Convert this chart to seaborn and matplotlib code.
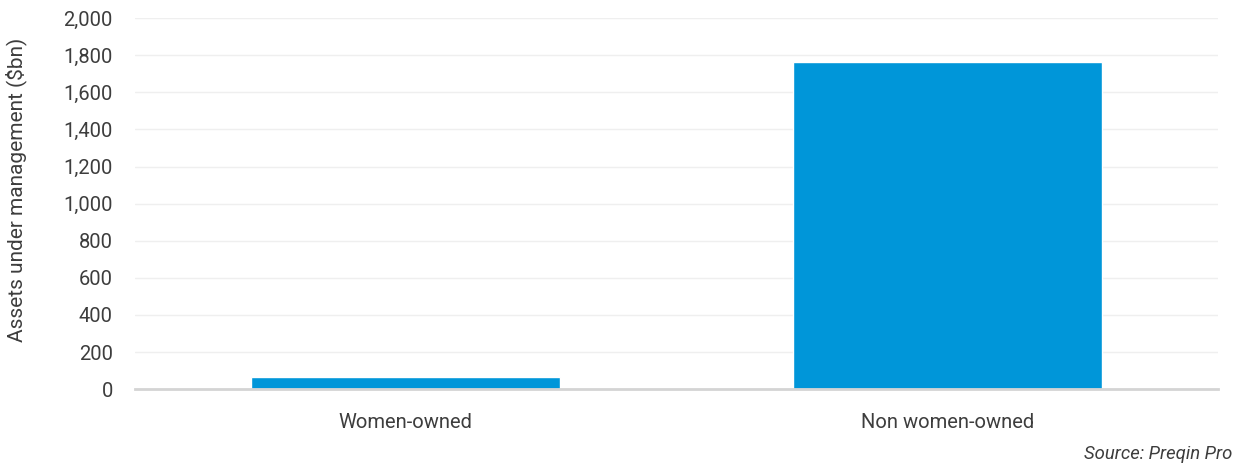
import matplotlib
matplotlib.use("Agg")
import matplotlib.pyplot as plt
from matplotlib.ticker import FuncFormatter
import seaborn as sns
import pandas as pd

categories = ["Women-owned", "Non women-owned"]
aum_bn = [65, 1763]
y_ticks = [0, 200, 400, 600, 800, 1000, 1200, 1400, 1600, 1800, 2000]

sns.set_theme(style="white")
plt.rcParams["font.family"] = ["Roboto", "DejaVu Sans"]

text_color = "#3d3d3d"
bar_color = "#0096d9"

df = pd.DataFrame({"category": categories, "aum": aum_bn})

fig = plt.figure(figsize=(12.39, 4.66), dpi=100)
ax = fig.add_axes([0.109, 0.165, 0.874, 0.796])

sns.barplot(data=df, x="category", y="aum", color=bar_color, width=0.57,
            saturation=1, ax=ax, zorder=3)

ax.set_ylim(0, 2000)
ax.set_yticks(y_ticks)
ax.yaxis.set_major_formatter(FuncFormatter(lambda v, p: f"{int(v):,}"))
ax.grid(axis="y", color="#efefef", linewidth=1.0, zorder=0)
ax.grid(axis="x", visible=False)

for side in ["top", "right", "left"]:
    ax.spines[side].set_visible(False)
ax.spines["bottom"].set_color("#d4d4d4")
ax.spines["bottom"].set_linewidth(2.0)
ax.spines["bottom"].set_zorder(4)

ax.tick_params(axis="both", length=0, labelsize=14.5, colors=text_color)
ax.tick_params(axis="y", pad=16)
ax.tick_params(axis="x", pad=17)

ax.set_xlabel("")
ax.set_ylabel("Assets under management ($bn)", fontsize=15, color=text_color)
ax.yaxis.set_label_coords(-0.1, 0.536)

fig.text(0.995, 0.016, "Source: Preqin Pro", ha="right", va="baseline",
         fontsize=13.3, style="italic", color=text_color)

fig.savefig("out.png", dpi=100)
